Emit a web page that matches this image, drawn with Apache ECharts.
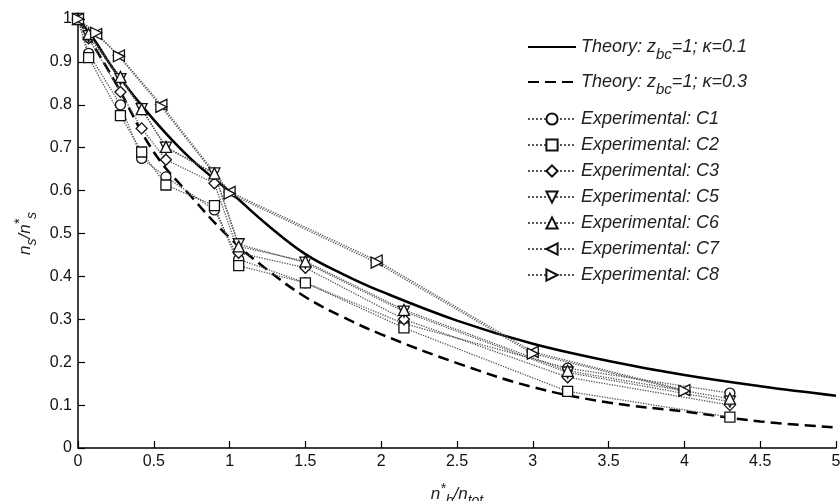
<!DOCTYPE html>
<html>
<head>
<meta charset="utf-8">
<script src="https://cdn.jsdelivr.net/npm/echarts@6/dist/echarts.min.js"></script>
<style>html,body{margin:0;padding:0;background:#fff;}#c{width:840px;height:501px;}</style>
</head>
<body>
<div id="c"></div>
<script>
// ---- data ----
const theoryX = [0, 0.1, 0.25, 0.5, 0.75, 1, 1.25, 1.5, 1.75, 2, 2.5, 3, 3.5, 4, 4.5, 5];
const theoryK01 = [1, 0.955, 0.875, 0.765, 0.672, 0.598, 0.52, 0.452, 0.405, 0.365, 0.297, 0.243, 0.203, 0.17, 0.144, 0.122];
const theoryK03 = [1, 0.94, 0.85, 0.69, 0.585, 0.49, 0.415, 0.352, 0.305, 0.265, 0.198, 0.142, 0.106, 0.085, 0.062, 0.048];

const expX = [0, 0.07, 0.28, 0.42, 0.58, 0.9, 1.06, 1.5, 2.15, 3.23, 4.3];
const c1 = [1, 0.92, 0.80, 0.675, 0.632, 0.555, 0.44, 0.385, 0.29, 0.186, 0.128];
const c2 = [1, 0.91, 0.775, 0.69, 0.613, 0.565, 0.425, 0.385, 0.28, 0.132, 0.072];
const c3 = [1, 0.955, 0.83, 0.745, 0.672, 0.617, 0.455, 0.42, 0.30, 0.165, 0.10];
const c5 = [1, 0.96, 0.86, 0.79, 0.70, 0.64, 0.475, 0.432, 0.318, 0.176, 0.108];
const c6 = [1, 0.965, 0.865, 0.79, 0.702, 0.64, 0.47, 0.435, 0.322, 0.18, 0.115];
const expX78 = [0, 0.12, 0.27, 0.55, 1.0, 1.97, 3.0, 4.0];
const c7 = [1, 0.965, 0.915, 0.80, 0.597, 0.437, 0.224, 0.135];
const c8 = [1, 0.968, 0.913, 0.795, 0.593, 0.432, 0.22, 0.133];

const xTicks = ['0','0.5','1','1.5','2','2.5','3','3.5','4','4.5','5'];
const yTicks = ['0','0.1','0.2','0.3','0.4','0.5','0.6','0.7','0.8','0.9','1'];

const names = {
  th1: 'Theory: z_bc=1; κ=0.1',
  th2: 'Theory: z_bc=1; κ=0.3',
  c1: 'Experimental: C1', c2: 'Experimental: C2', c3: 'Experimental: C3',
  c5: 'Experimental: C5', c6: 'Experimental: C6', c7: 'Experimental: C7', c8: 'Experimental: C8'
};

function zip(xs, ys) { return xs.map((x, i) => [x, ys[i]]); }

const FONT = 'Liberation Sans, Arial, sans-serif';
const symDown = 'path://M0,0L10,0L5,9Z';
const symUp = 'path://M5,0L10,9L0,9Z';
const symLeft = 'path://M9,0L9,10L0,5Z';
const symRight = 'path://M0,0L0,10L9,5Z';

function expSeries(name, xs, ys, symbol, size) {
  return {
    name: name, type: 'line', data: zip(xs, ys),
    symbol: symbol, symbolSize: size || 10,
    showAllSymbol: true,
    color: '#000',
    lineStyle: { type: 'dotted', width: 1.3, color: '#555' },
    itemStyle: { color: '#fff', borderColor: '#111', borderWidth: 1.3 },
    emphasis: { disabled: true },
    z: 3
  };
}

const chart = echarts.init(document.getElementById('c'), null, { renderer: 'canvas' });

const legendText = {
  fontFamily: FONT, fontSize: 18, fontStyle: 'italic', color: '#222',
  rich: {
    t: { fontFamily: FONT, fontSize: 18, fontStyle: 'italic', color: '#222' },
    s: { fontFamily: FONT, fontSize: 15, fontStyle: 'italic', color: '#222', padding: [16, 0, 0, 0] }
  }
};
function thFormatter(n) {
  if (n.indexOf('Theory') === 0) {
    const k = n.split('κ=')[1];
    return '{t|Theory: z}{s|bc}{t|=1; κ=' + k + '}';
  }
  return n;
}

const option = {
  backgroundColor: '#fff',
  animation: false,
  grid: { left: 78, right: 4, top: 19, bottom: 53, containLabel: false, outerBoundsMode: 'none' },
  legend: [
    {
      data: [{ name: names.th1, itemStyle: { opacity: 0 } }], orient: 'vertical', left: 522, top: 33,
      itemWidth: 48, itemHeight: 14, itemGap: 0,
      textStyle: legendText, formatter: thFormatter, selectedMode: false
    },
    {
      data: [{ name: names.th2, itemStyle: { opacity: 0 } }], orient: 'vertical', left: 522, top: 68,
      itemWidth: 48, itemHeight: 14, itemGap: 0,
      textStyle: legendText, formatter: thFormatter, selectedMode: false
    },
    {
      data: [names.c1, names.c2, names.c3, names.c5, names.c6, names.c7, names.c8],
      orient: 'vertical', left: 522, top: 105,
      itemWidth: 48, itemHeight: 14, itemGap: 8,
      textStyle: { fontFamily: FONT, fontSize: 18, fontStyle: 'italic', color: '#222', lineHeight: 18 },
      selectedMode: false
    }
  ],
  xAxis: {
    type: 'value', min: 0, max: 5, interval: 0.5,
    axisLine: { show: true, lineStyle: { color: '#000', width: 1.5 } },
    axisTick: { show: true, inside: true, length: 7, lineStyle: { color: '#000', width: 1.2 } },
    splitLine: { show: false },
    axisLabel: {
      fontFamily: FONT, fontSize: 16, color: '#111', margin: 6,
      formatter: (v) => xTicks[Math.round(v / 0.5)] || ''
    },
    name: '{t|n}{sup|*}{s|b}{t|/n}{s|tot}',
    nameLocation: 'middle', nameGap: 32,
    nameTextStyle: {
      rich: {
        t: { fontFamily: FONT, fontSize: 17, fontStyle: 'italic', color: '#222' },
        s: { fontFamily: FONT, fontSize: 14, fontStyle: 'italic', color: '#222', padding: [14, 0, 0, 0] },
        sup: { fontFamily: FONT, fontSize: 14, fontStyle: 'italic', color: '#222', padding: [0, 0, 10, 0] }
      }
    }
  },
  yAxis: {
    type: 'value', min: 0, max: 1, interval: 0.1,
    axisLine: { show: true, lineStyle: { color: '#000', width: 1.5 } },
    axisTick: { show: true, inside: true, length: 7, lineStyle: { color: '#000', width: 1.2 } },
    splitLine: { show: false },
    axisLabel: {
      fontFamily: FONT, fontSize: 16, color: '#111', margin: 6,
      formatter: (v) => yTicks[Math.round(v * 10)] || ''
    },
    name: '{t|n}{s|s}{t|/n}{sup|*}{s|s}',
    nameLocation: 'middle', nameGap: 38, nameRotate: 90,
    nameTextStyle: {
      rich: {
        t: { fontFamily: FONT, fontSize: 17, fontStyle: 'italic', color: '#222' },
        s: { fontFamily: FONT, fontSize: 14, fontStyle: 'italic', color: '#222', padding: [14, 0, 0, 0] },
        sup: { fontFamily: FONT, fontSize: 14, fontStyle: 'italic', color: '#222', padding: [0, 0, 10, 0] }
      }
    }
  },
  series: [
    {
      name: names.th1, type: 'line', data: zip(theoryX, theoryK01),
      smooth: 0.4, symbol: 'none', color: '#000',
      lineStyle: { type: 'solid', width: 2.5, color: '#000' }, z: 2
    },
    {
      name: names.th2, type: 'line', data: zip(theoryX, theoryK03),
      smooth: 0.4, symbol: 'none', color: '#000',
      lineStyle: { type: [11, 6], width: 2.5, color: '#000' }, z: 2
    },
    expSeries(names.c1, expX, c1, 'circle', 10),
    expSeries(names.c2, expX, c2, 'rect', 10),
    expSeries(names.c3, expX, c3, 'diamond', 11),
    expSeries(names.c5, expX, c5, symDown, 11),
    expSeries(names.c6, expX, c6, symUp, 11),
    expSeries(names.c7, expX78, c7, symLeft, 11),
    expSeries(names.c8, expX78, c8, symRight, 11)
  ]
};
chart.setOption(option);
</script>
</body>
</html>
